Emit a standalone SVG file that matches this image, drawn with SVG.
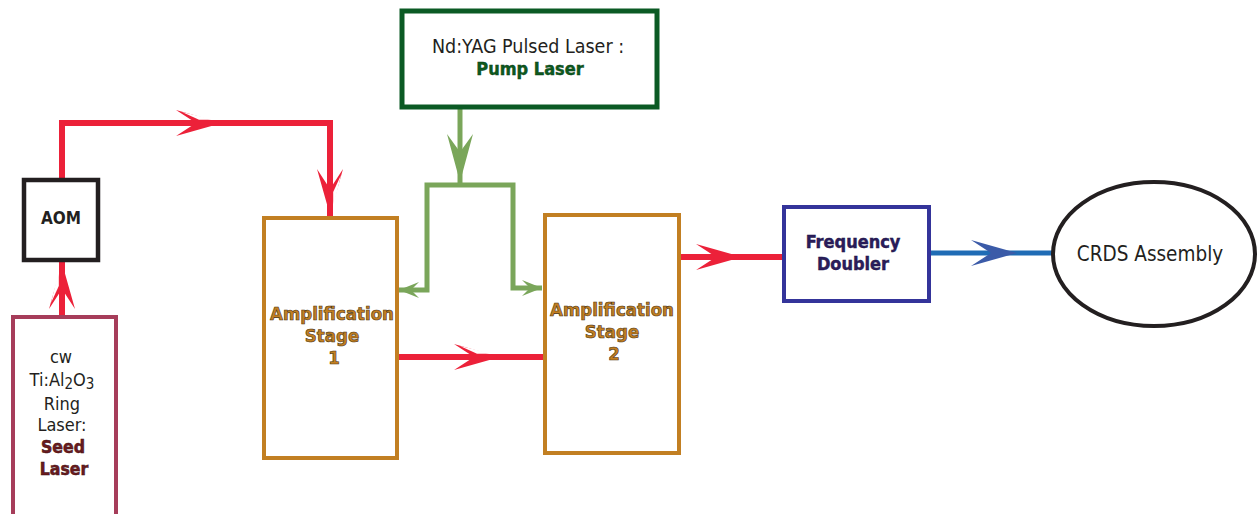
<svg xmlns="http://www.w3.org/2000/svg" xmlns:xlink="http://www.w3.org/1999/xlink" width="1257" height="514" viewBox="0 0 1257 514">
<style>
.box{fill:#fff}
.reg{font-family:"DejaVu Sans Condensed","DejaVu Sans",sans-serif;font-stretch:condensed;fill:#231f20;text-anchor:middle}
.bold{font-family:"DejaVu Sans Condensed","DejaVu Sans",sans-serif;font-stretch:condensed;font-weight:bold;text-anchor:middle}
.amp{fill:#c27f22;stroke:#4a3210;stroke-width:0.6;font-size:18.5px}
.red{fill:none;stroke:#ec2139;stroke-width:6}
.green{fill:none;stroke:#7aa65a;stroke-width:5}
.blue{fill:none;stroke:#1f6cb5;stroke-width:5}
</style>
<defs>
<g id="redArrow">
<path d="M0,0 L-46,-13 L-26,0 L-46,13 Z" fill="#ec2139"/>
<path d="M-7,-3.2 L-40,-11 L-23,-3.2 Z" fill="#fff"/>
</g>
<path id="redSolid" d="M0,0 L-46,-13 L-26,0 L-46,13 Z" fill="#ec2139"/>
<path id="blueArrow" d="M0,0 L-46,-13 L-26,0 L-46,13 Z" fill="#3b5ba8"/>
<path id="greenBig" d="M0,0 L-48,-13 L-30,0 L-48,13 Z" fill="#7aa65a"/>
<path id="greenSmall" d="M0,0 L-20,-8 L-12,0 L-20,8 Z" fill="#7aa65a"/>
</defs>

<g id="connectors">
<path class="red" d="M62,315 V262"/>
<use xlink:href="#redArrow" transform="translate(62,263) rotate(-90)"/>
<path class="red" d="M62,180 V123 H330 V218"/>
<use xlink:href="#redArrow" transform="translate(222,123)"/>
<use xlink:href="#redArrow" transform="translate(330,215) rotate(90)"/>
<path class="red" d="M398,357 H543"/>
<use xlink:href="#redArrow" transform="translate(500,357)"/>
<path class="red" d="M680,257 H783"/>
<use xlink:href="#redSolid" transform="translate(742,257)"/>
<path class="blue" d="M930,253 H1052"/>
<use xlink:href="#blueArrow" transform="translate(1017,253)"/>
<path class="green" d="M460,108 V185"/>
<use xlink:href="#greenBig" transform="translate(460,182) rotate(90)"/>
<path class="green" d="M399,290 H427 V185 H513 V288 H542"/>
<use xlink:href="#greenSmall" transform="translate(399,290) rotate(180)"/>
<use xlink:href="#greenSmall" transform="translate(542,288)"/>
</g>

<g id="aom">
<rect class="box" x="24" y="180" width="74" height="80" stroke="#231f20" stroke-width="4.5"/>
<text class="bold" x="61" y="224" font-size="17" fill="#231f20">AOM</text>
</g>

<g id="seed-laser">
<rect class="box" x="13" y="317" width="103" height="200" stroke="#a63d5a" stroke-width="4"/>
<text class="reg" x="61" y="363" font-size="18">cw</text>
<text class="reg" x="62" y="386" font-size="18">Ti:Al<tspan font-size="15" dy="3">2</tspan><tspan dy="-3">O</tspan><tspan font-size="15" dy="3">3</tspan></text>
<text class="reg" x="62" y="410" font-size="18">Ring</text>
<text class="reg" x="62" y="431" font-size="18">Laser:</text>
<text class="bold" x="63" y="453" font-size="17.5" fill="#6b1b1e" stroke="#3a0e10" stroke-width="0.5">Seed</text>
<text class="bold" x="64" y="475" font-size="17.5" fill="#6b1b1e" stroke="#3a0e10" stroke-width="0.5">Laser</text>
</g>

<g id="pump-laser">
<rect class="box" x="402" y="11" width="255" height="96" stroke="#0b5a24" stroke-width="5"/>
<text class="reg" x="528" y="53" font-size="19.5">Nd:YAG Pulsed Laser :</text>
<text class="bold" x="530" y="75" font-size="18" fill="#0d5a1e" stroke="#073812" stroke-width="0.4">Pump Laser</text>
</g>

<g id="amp-stage-1">
<rect class="box" x="264" y="218" width="133" height="240" stroke="#c27f22" stroke-width="4"/>
<text class="bold amp" x="332" y="320">Amplification</text>
<text class="bold amp" x="332" y="342">Stage</text>
<text class="bold amp" x="334" y="364">1</text>
</g>

<g id="amp-stage-2">
<rect class="box" x="545" y="215" width="134" height="238" stroke="#c27f22" stroke-width="4"/>
<text class="bold amp" x="612" y="316">Amplification</text>
<text class="bold amp" x="612" y="338">Stage</text>
<text class="bold amp" x="614" y="360">2</text>
</g>

<g id="frequency-doubler">
<rect class="box" x="784" y="207" width="145" height="94" stroke="#34349a" stroke-width="4"/>
<text class="bold" x="853" y="248" font-size="18" fill="#2a1d5c" stroke="#1a1040" stroke-width="0.4">Frequency</text>
<text class="bold" x="853" y="270" font-size="18" fill="#2a1d5c" stroke="#1a1040" stroke-width="0.4">Doubler</text>
</g>

<g id="crds-assembly">
<ellipse class="box" cx="1154" cy="254" rx="101" ry="72" stroke="#231f20" stroke-width="4"/>
<text class="reg" x="1150" y="261" font-size="20.5">CRDS Assembly</text>
</g>
</svg>
